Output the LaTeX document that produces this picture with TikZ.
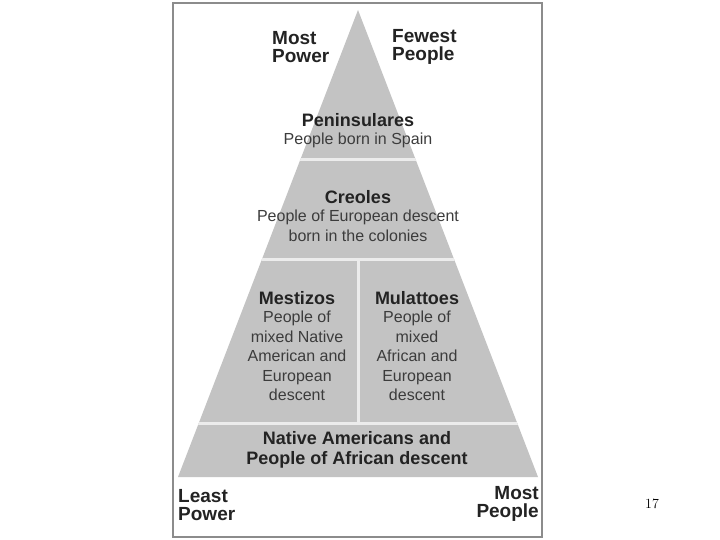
\documentclass[tikz,border=0pt]{standalone}
\usepackage{fontspec}
\setsansfont{Liberation Sans}
\usetikzlibrary{positioning}
\definecolor{pyramid_gray}{RGB}{195, 195, 195}
\definecolor{frame_gray}{RGB}{140, 140, 140}
\definecolor{gap_white}{RGB}{236, 236, 236}
\definecolor{ink_dark}{RGB}{35, 35, 35}
\definecolor{ink_soft}{RGB}{60, 60, 60}

\begin{document}
\begin{tikzpicture}[
    x=1pt, y=-1pt,
    % Node styles
    corner/.style={
        inner sep=0pt,
        text=ink_dark,
        align=#1,
        font=\sffamily\bfseries\fontsize{19}{18}\selectfont
    },
    tier_head/.style={
        inner sep=0pt,
        text=ink_dark,
        align=center,
        font=\sffamily\bfseries\fontsize{18}{20}\selectfont
    },
    tier_text/.style={
        inner sep=0pt,
        text=ink_soft,
        align=center,
        font=\sffamily\fontsize{16}{19.5}\selectfont
    },
    divider/.style={
        draw=gap_white,
        line width=3pt
    }
]
\useasboundingbox (0,0) rectangle (720,540);

% Frame
\draw[frame_gray, line width=2pt, fill=white] (173,3) rectangle (542,537);

% Pyramid
\coordinate (apex) at (358,10);
\coordinate (base_left) at (178,477);
\coordinate (base_right) at (538,477);
\fill[pyramid_gray] (apex) -- (base_right) -- (base_left) -- cycle;

\begin{scope}
    \clip (apex) -- (base_right) -- (base_left) -- cycle;
    \draw[divider] (290,160) -- (428,160);
    \draw[divider] (250,259) -- (466,259);
    \draw[divider] (190,423) -- (528,423);
    \draw[divider] (358,259) -- (358,423);
\end{scope}

% Corner labels
\node[corner=left, anchor=west] (most_power) at (272,47) {Most\\Power};
\node[corner=left, anchor=west] (fewest_people) at (392,47) {Fewest\\People};
\node[corner=left, anchor=west] (least_power) at (178,505) {Least\\Power};
\node[corner=right, anchor=east] (most_people) at (539,504) {Most\\People};

% Tiers
\node[tier_head] (peninsulares) at (358,120) {Peninsulares};
\node[tier_text, below=6pt of peninsulares] (peninsulares_text) {People born in Spain};

\node[tier_head] (creoles) at (358,197) {Creoles};
\node[tier_text, below=6pt of creoles] (creoles_text) {People of European descent\\born in the colonies};

\node[tier_head] (mestizos) at (297,298) {Mestizos};
\node[tier_text, below=6pt of mestizos] (mestizos_text) {People of\\mixed Native\\American and\\European\\descent};

\node[tier_head] (mulattoes) at (417,298) {Mulattoes};
\node[tier_text, below=6pt of mulattoes] (mulattoes_text) {People of\\mixed\\African and\\European\\descent};

\node[tier_head] (natives) at (357,450) {Native Americans and\\People of African descent};

% Slide number
\node[inner sep=0pt, font=\fontsize{14}{16}\selectfont] (slide_no) at (652,504) {17};

\end{tikzpicture}
\end{document}
